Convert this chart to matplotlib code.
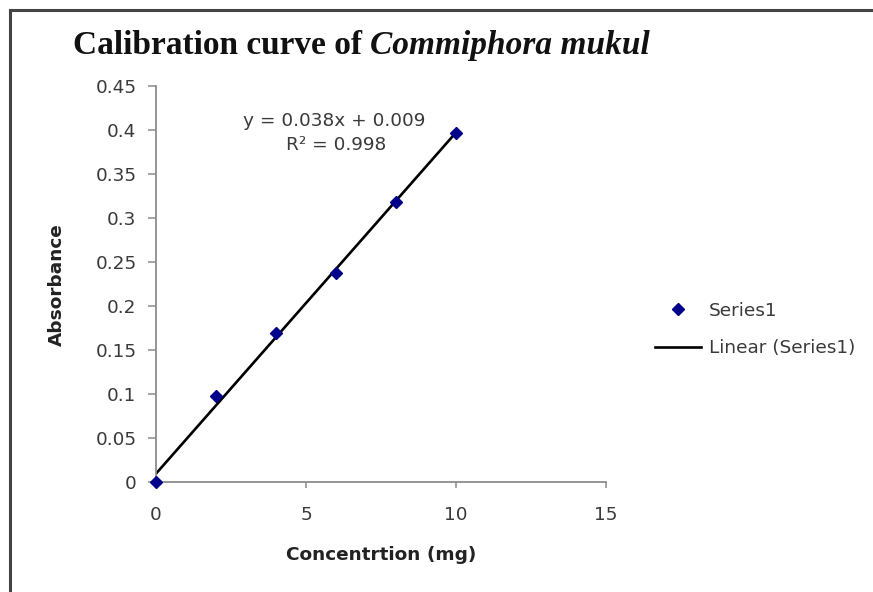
import numpy as np
import matplotlib.pyplot as plt
from matplotlib.lines import Line2D

# data
conc_mg = [0, 2, 4, 6, 8, 10]
absorbance = [0.0, 0.098, 0.169, 0.238, 0.318, 0.397]
x_ticks = [0, 5, 10, 15]
y_ticks = [0, 0.05, 0.1, 0.15, 0.2, 0.25, 0.3, 0.35, 0.4, 0.45]
y_tick_labels = ["0", "0.05", "0.1", "0.15", "0.2", "0.25", "0.3", "0.35", "0.4", "0.45"]
eq_label = "y = 0.038x + 0.009"
r2_label = "R\u00b2 = 0.998"

plt.rcParams["font.family"] = ["DejaVu Sans"]

W, H = 873, 592
fs = 13.3
fig = plt.figure(figsize=(W / 100, H / 100), dpi=100)
ax = fig.add_axes([156 / W, 1 - 482 / H, 450 / W, 396 / H])

# linear trendline through the points
slope, intercept = np.polyfit(conc_mg, absorbance, 1)
xs = np.array([0, 10])
ax.plot(xs, slope * xs + intercept, color="black", lw=1.9, label="Linear (Series1)", zorder=2)
ax.plot(conc_mg, absorbance, "D", color="#00008b", ms=6.3, ls="none", label="Series1",
        clip_on=False, zorder=3)

ax.set_xlim(0, 15)
ax.set_ylim(0, 0.45)
ax.set_xticks(x_ticks)
ax.set_yticks(y_ticks)
ax.set_yticklabels(y_tick_labels)

gray = "#8c8c8c"
for s in ["top", "right"]:
    ax.spines[s].set_visible(False)
for s in ["left", "bottom"]:
    ax.spines[s].set_color(gray)
    ax.spines[s].set_linewidth(1.3)
ax.tick_params(axis="y", direction="out", length=6, width=1.1, color=gray,
               pad=8, labelsize=fs, labelcolor="#3a3a3a")
ax.tick_params(axis="x", direction="out", length=4, width=1.1, color=gray,
               pad=13, labelsize=fs, labelcolor="#3a3a3a")

fig.text(381 / W, 1 - 555 / H, "Concentrtion (mg)", fontsize=fs, fontweight="bold",
         color="#222222", ha="center", va="center")
fig.text(57 / W, 1 - 285 / H, "Absorbance", fontsize=fs, fontweight="bold",
         color="#222222", ha="center", va="center", rotation=90)

fig.text(334 / W, 1 - 121 / H, eq_label, ha="center", va="center", fontsize=fs, color="#3a3a3a")
fig.text(336 / W, 1 - 145 / H, r2_label, ha="center", va="center", fontsize=fs, color="#3a3a3a")

# title: upright part then italic species name
t1 = fig.text(73 / W, 1 - 54 / H, "Calibration curve of ", fontsize=24, fontweight="bold",
              family="Liberation Serif", va="baseline", color="#111111")
fig.canvas.draw()
bb = t1.get_window_extent()
fig.text(bb.x1 / W, 1 - 54 / H, "Commiphora mukul", fontsize=24, fontweight="bold",
         fontstyle="italic", family="Liberation Serif", va="baseline", color="#111111")

h, l = ax.get_legend_handles_labels()
leg = ax.legend(h[::-1], l[::-1], loc="center left", bbox_to_anchor=(655 / W, 1 - 329.5 / H),
                bbox_transform=fig.transFigure, frameon=False, fontsize=fs,
                borderpad=0, borderaxespad=0,
                handlelength=2.5, handletextpad=0.4, labelspacing=1.05)
for txt in leg.get_texts():
    txt.set_color("#3a3a3a")

# outer chart frame (left and top edges visible)
fig.add_artist(Line2D([10 / W, 10 / W], [0, 1 - 10 / H], color="#444444", lw=2.2,
                      transform=fig.transFigure))
fig.add_artist(Line2D([10 / W, 1], [1 - 10 / H, 1 - 10 / H], color="#444444", lw=2.2,
                      transform=fig.transFigure))

fig.savefig("out.png", dpi=100)
